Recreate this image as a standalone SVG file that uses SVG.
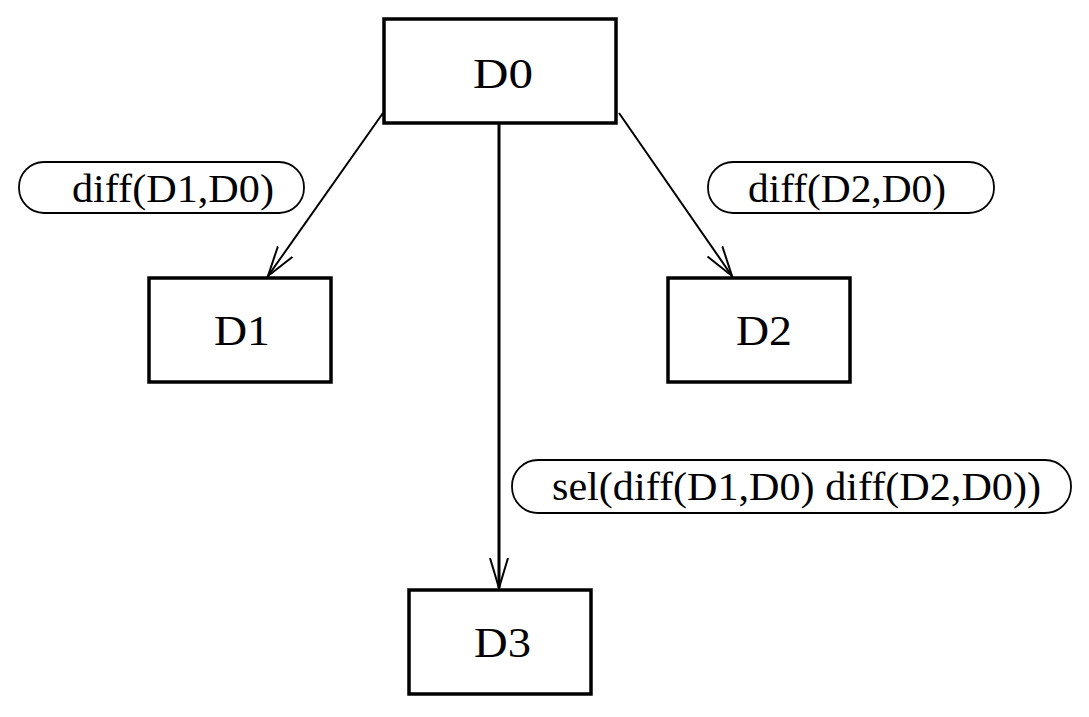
<svg xmlns="http://www.w3.org/2000/svg" width="1089" height="717" viewBox="0 0 1089 717">
<style>
.box{fill:#fff;stroke:#000;stroke-width:3.5}
.pill{fill:#fff;stroke:#000;stroke-width:1.8}
.t{font-family:"Liberation Serif",serif;font-size:43px;fill:#000}
.l{font-family:"Liberation Serif",serif;font-size:40px;fill:#000}
.c{fill:none;stroke:#000;stroke-width:2}
</style>
<defs>
<marker id="v" markerUnits="userSpaceOnUse" markerWidth="40" markerHeight="40" refX="30" refY="15" orient="auto" viewBox="0 0 40 30">
<path d="M0,6 L30,15 L0,24" fill="none" stroke="#000" stroke-width="2"/>
</marker>
</defs>
<g id="connectors">
<line class="c" x1="383" y1="113" x2="268" y2="276" marker-end="url(#v)"/>
<line class="c" x1="619" y1="113" x2="732" y2="276" marker-end="url(#v)"/>
<line class="c" x1="499" y1="123" x2="499" y2="588" style="stroke-width:3" marker-end="url(#v)"/>
</g>
<g id="D0"><rect class="box" x="384" y="19" width="232" height="104"/><text class="t" x="473" y="88" textLength="60" lengthAdjust="spacingAndGlyphs">D0</text></g>
<g id="D1"><rect class="box" x="149" y="278" width="182" height="104"/><text class="t" x="214" y="345" textLength="56" lengthAdjust="spacingAndGlyphs">D1</text></g>
<g id="D2"><rect class="box" x="668" y="278" width="182" height="104"/><text class="t" x="736" y="345" textLength="56" lengthAdjust="spacingAndGlyphs">D2</text></g>
<g id="D3"><rect class="box" x="409" y="590" width="182" height="104"/><text class="t" x="474" y="657" textLength="57" lengthAdjust="spacingAndGlyphs">D3</text></g>
<g id="label1"><rect class="pill" x="19" y="162" width="285" height="51" rx="25"/><text class="l" x="72" y="202" textLength="202" lengthAdjust="spacingAndGlyphs">diff(D1,D0)</text></g>
<g id="label2"><rect class="pill" x="708" y="162" width="286" height="51" rx="25"/><text class="l" x="748" y="202" textLength="198" lengthAdjust="spacingAndGlyphs">diff(D2,D0)</text></g>
<g id="label3"><rect class="pill" x="512" y="460" width="559" height="53" rx="26"/><text class="l" x="552" y="500" textLength="489" lengthAdjust="spacingAndGlyphs">sel(diff(D1,D0) diff(D2,D0))</text></g>
</svg>
